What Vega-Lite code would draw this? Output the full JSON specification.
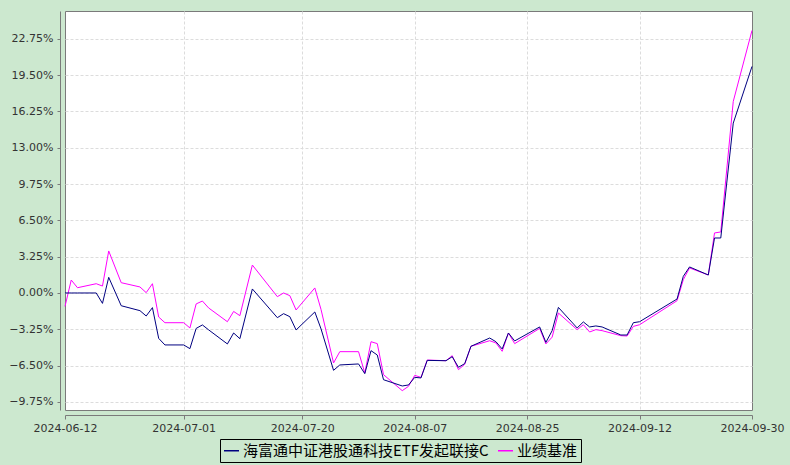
{
  "$schema": "https://vega.github.io/schema/vega-lite/v6.json",
  "width": 687,
  "height": 399,
  "autosize": {"type": "none"},
  "padding": {"left": 65, "top": 11, "right": 38, "bottom": 55},
  "background": "#cce8cf",
  "config": {
    "view": {"stroke": "#7a7a7a", "strokeWidth": 1, "fill": "#ffffff"},
    "font": "DejaVu Sans",
    "axis": {
      "labelFont": "DejaVu Sans",
      "labelFontSize": 11,
      "labelColor": "#333333",
      "domainColor": "#7a7a7a",
      "tickColor": "#7a7a7a",
      "gridColor": "#dcdcdc",
      "gridDash": [3, 2],
      "gridWidth": 1,
      "title": null
    }
  },
  "data": {
    "values": [
      {"date": "2024/06/12", "f": 0, "b": -1.2},
      {"date": "2024/06/13", "f": 0, "b": 1.16},
      {"date": "2024/06/14", "f": 0, "b": 0.47},
      {"date": "2024/06/17", "f": 0, "b": 0.83},
      {"date": "2024/06/18", "f": -0.93, "b": 0.62},
      {"date": "2024/06/19", "f": 1.4, "b": 3.76},
      {"date": "2024/06/21", "f": -1.14, "b": 0.92},
      {"date": "2024/06/24", "f": -1.58, "b": 0.54},
      {"date": "2024/06/25", "f": -2.06, "b": 0.03},
      {"date": "2024/06/26", "f": -1.31, "b": 0.83},
      {"date": "2024/06/27", "f": -4.06, "b": -2.15},
      {"date": "2024/06/28", "f": -4.65, "b": -2.66},
      {"date": "2024/07/01", "f": -4.65, "b": -2.66},
      {"date": "2024/07/02", "f": -4.98, "b": -3.13},
      {"date": "2024/07/03", "f": -3.17, "b": -0.98},
      {"date": "2024/07/04", "f": -2.86, "b": -0.72},
      {"date": "2024/07/05", "f": -3.3, "b": -1.34},
      {"date": "2024/07/08", "f": -4.56, "b": -2.57},
      {"date": "2024/07/09", "f": -3.58, "b": -1.65},
      {"date": "2024/07/10", "f": -4.09, "b": -2.03},
      {"date": "2024/07/12", "f": 0.36, "b": 2.5},
      {"date": "2024/07/16", "f": -2.21, "b": -0.33},
      {"date": "2024/07/17", "f": -1.85, "b": 0},
      {"date": "2024/07/18", "f": -2.12, "b": -0.24},
      {"date": "2024/07/19", "f": -3.31, "b": -1.52},
      {"date": "2024/07/22", "f": -1.7, "b": 0.45},
      {"date": "2024/07/23", "f": -3.22, "b": -1.49},
      {"date": "2024/07/25", "f": -6.92, "b": -6.26},
      {"date": "2024/07/26", "f": -6.44, "b": -5.25},
      {"date": "2024/07/29", "f": -6.35, "b": -5.25},
      {"date": "2024/07/30", "f": -7.22, "b": -7.16},
      {"date": "2024/07/31", "f": -5.16, "b": -4.36},
      {"date": "2024/08/01", "f": -5.55, "b": -4.53},
      {"date": "2024/08/02", "f": -7.76, "b": -7.31},
      {"date": "2024/08/05", "f": -8.32, "b": -8.74},
      {"date": "2024/08/06", "f": -8.23, "b": -8.35},
      {"date": "2024/08/07", "f": -7.55, "b": -7.37},
      {"date": "2024/08/08", "f": -7.6, "b": -7.55},
      {"date": "2024/08/09", "f": -6.03, "b": -6.0},
      {"date": "2024/08/12", "f": -6.06, "b": -6.06},
      {"date": "2024/08/13", "f": -5.7, "b": -5.61},
      {"date": "2024/08/14", "f": -6.65, "b": -6.86},
      {"date": "2024/08/15", "f": -6.32, "b": -6.38},
      {"date": "2024/08/16", "f": -4.77, "b": -4.77},
      {"date": "2024/08/19", "f": -4.03, "b": -4.27},
      {"date": "2024/08/20", "f": -4.36, "b": -4.47},
      {"date": "2024/08/21", "f": -5.01, "b": -5.22},
      {"date": "2024/08/22", "f": -3.58, "b": -3.58},
      {"date": "2024/08/23", "f": -4.29, "b": -4.53},
      {"date": "2024/08/27", "f": -3.04, "b": -3.17},
      {"date": "2024/08/28", "f": -4.42, "b": -4.56},
      {"date": "2024/08/29", "f": -3.37, "b": -3.95},
      {"date": "2024/08/30", "f": -1.29, "b": -1.79},
      {"date": "2024/09/02", "f": -3.13, "b": -3.28},
      {"date": "2024/09/03", "f": -2.59, "b": -2.84},
      {"date": "2024/09/04", "f": -3.04, "b": -3.49},
      {"date": "2024/09/05", "f": -2.95, "b": -3.28},
      {"date": "2024/09/06", "f": -3.04, "b": -3.37},
      {"date": "2024/09/09", "f": -3.76, "b": -3.82},
      {"date": "2024/09/10", "f": -3.76, "b": -3.85},
      {"date": "2024/09/11", "f": -2.66, "b": -2.99},
      {"date": "2024/09/12", "f": -2.57, "b": -2.84},
      {"date": "2024/09/18", "f": -0.54, "b": -0.69},
      {"date": "2024/09/19", "f": 1.49, "b": 1.19},
      {"date": "2024/09/20", "f": 2.33, "b": 2.24},
      {"date": "2024/09/23", "f": 1.61, "b": 1.61},
      {"date": "2024/09/24", "f": 4.92, "b": 5.37},
      {"date": "2024/09/25", "f": 4.92, "b": 5.46},
      {"date": "2024/09/27", "f": 15.2, "b": 17.14},
      {"date": "2024/09/30", "f": 20.27, "b": 23.49}
    ]
  },
  "transform": [
    {"fold": ["b", "f"], "as": ["key", "value"]},
    {"calculate": "datum.key === 'f' ? '海富通中证港股通科技ETF发起联接C' : '业绩基准'", "as": "series"}
  ],
  "encoding": {
    "x": {
      "field": "date",
      "type": "temporal",
      "scale": {
        "domain": [
          {"year": 2024, "month": 6, "date": 12},
          {"year": 2024, "month": 9, "date": 30}
        ],
        "nice": false
      },
      "axis": {
        "values": [
          {"year": 2024, "month": 6, "date": 12},
          {"year": 2024, "month": 7, "date": 1},
          {"year": 2024, "month": 7, "date": 20},
          {"year": 2024, "month": 8, "date": 7},
          {"year": 2024, "month": 8, "date": 25},
          {"year": 2024, "month": 9, "date": 12},
          {"year": 2024, "month": 9, "date": 30}
        ],
        "format": "%Y-%m-%d",
        "offset": 5,
        "tickSize": 4,
        "labelPadding": 3,
        "labelFlush": false,
        "labelOverlap": false,
        "grid": true,
        "gridOpacity": {"condition": {"test": "datum.index === 0 || datum.index === 1", "value": 0}, "value": 1}
      }
    },
    "y": {
      "field": "value",
      "type": "quantitative",
      "scale": {"domain": [-10.47, 25.23], "nice": false, "zero": false},
      "axis": {
        "values": [-9.75, -6.5, -3.25, 0, 3.25, 6.5, 9.75, 13, 16.25, 19.5, 22.75],
        "labelExpr": "format(datum.value, '.2f') + '%'",
        "offset": 5,
        "tickSize": 3,
        "labelPadding": 4,
        "labelFlush": false,
        "labelOverlap": false,
        "grid": true
      }
    },
    "color": {
      "field": "series",
      "type": "nominal",
      "scale": {
        "domain": ["海富通中证港股通科技ETF发起联接C", "业绩基准"],
        "range": ["#000080", "#ff00ff"]
      },
      "legend": {
        "title": null,
        "orient": "none",
        "legendX": 155,
        "legendY": 428,
        "direction": "horizontal",
        "symbolType": "stroke",
        "symbolSize": 225,
        "symbolStrokeWidth": 1.5,
        "labelFont": "Noto Sans CJK SC",
        "labelFontSize": 15,
        "labelColor": "#000000",
        "labelOffset": 3,
        "labelLimit": 400,
        "columnPadding": 6,
        "padding": 3,
        "strokeColor": "#000000"
      }
    }
  },
  "layer": [
    {
      "transform": [{"filter": "datum.key === 'b'"}],
      "mark": {"type": "line", "strokeWidth": 1}
    },
    {
      "transform": [{"filter": "datum.key === 'f'"}],
      "mark": {"type": "line", "strokeWidth": 1}
    }
  ]
}
